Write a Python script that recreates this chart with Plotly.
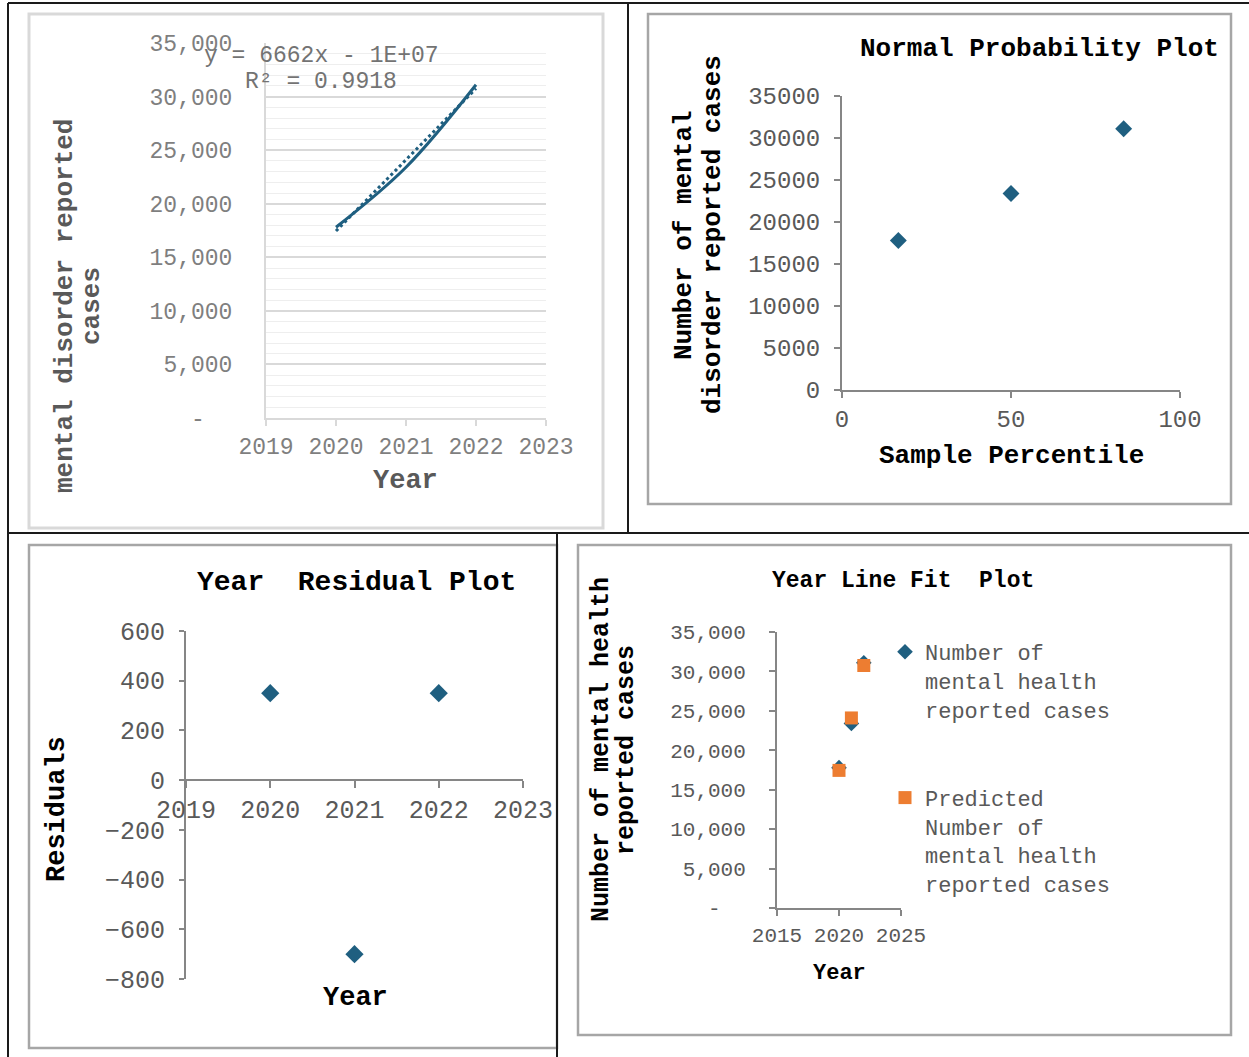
import plotly.graph_objects as go

W, H = 1249, 1057

# ---------------- data ----------------
years = [2020, 2021, 2022]
cases = [17800, 23400, 31100]            # number of mental disorder reported cases
predicted = [17450, 24100, 30750]        # linear-fit predictions
residuals = [350, -700, 350]
percentiles = [16.67, 50.0, 83.33]
sorted_cases = [17800, 23400, 31100]

case_ticks = [0, 5000, 10000, 15000, 20000, 25000, 30000, 35000]
case_ticktext_comma = [f"{v:,}" if v else "-\u00a0\u00a0" for v in case_ticks]
resid_ticks = [-800, -600, -400, -200, 0, 200, 400, 600]
year_ticks_a = [2019, 2020, 2021, 2022, 2023]
year_ticks_b = [2015, 2020, 2025]
pct_ticks = [0, 50, 100]

BLUE = "#1f5f80"
ORANGE = "#ED7D31"
MONO = "Liberation Mono"
AX = "#868686"


def fx(p):
    return p / W


def fy(p):
    return 1 - p / H


fig = go.Figure()

# top-left: line + dotted linear trendline
fig.add_trace(go.Scatter(x=years, y=cases, mode="lines",
                         line=dict(color=BLUE, width=3, shape="spline"),
                         xaxis="x", yaxis="y", showlegend=False))
fig.add_trace(go.Scatter(x=years, y=predicted, mode="lines",
                         line=dict(color=BLUE, width=3, dash="dot"),
                         xaxis="x", yaxis="y", showlegend=False))
# top-right: normal probability plot
fig.add_trace(go.Scatter(x=percentiles, y=sorted_cases, mode="markers",
                         marker=dict(symbol="diamond", size=13, color=BLUE),
                         xaxis="x2", yaxis="y2", showlegend=False))
# bottom-left: residual plot
fig.add_trace(go.Scatter(x=years, y=residuals, mode="markers",
                         marker=dict(symbol="diamond", size=14, color=BLUE),
                         xaxis="x3", yaxis="y3", showlegend=False))
# bottom-right: line fit plot
fig.add_trace(go.Scatter(x=years, y=cases, mode="markers",
                         marker=dict(symbol="diamond", size=12, color=BLUE),
                         name="Number of<br>mental health<br>reported cases",
                         legendgroup="a", xaxis="x4", yaxis="y4"))
fig.add_trace(go.Scatter(x=years, y=predicted, mode="markers",
                         marker=dict(symbol="square", size=13, color=ORANGE),
                         name="Predicted<br>Number of<br>mental health<br>reported cases",
                         legendgroup="b", xaxis="x4", yaxis="y4"))


def axis(domain_px, horizontal, **kw):
    a, b = domain_px
    d = [fx(a), fx(b)] if horizontal else [fy(b), fy(a)]
    base = dict(domain=d, showgrid=False, zeroline=False, showline=True,
                automargin=False,
                linecolor=AX, linewidth=2, ticks="outside", tickcolor=AX,
                tickwidth=2, ticklen=6,
                tickfont=dict(family=MONO, size=24, color="#595959"))
    base.update(kw)
    return base


layout = dict(
    width=W, height=H, autosize=False,
    margin=dict(l=0, r=0, t=0, b=0, pad=0, autoexpand=False),
    paper_bgcolor="white", plot_bgcolor="rgba(0,0,0,0)",
    font=dict(family=MONO),
    # top-left
    xaxis=axis((266, 546), True, anchor="y", range=[2019, 2023],
               tickmode="array", tickvals=year_ticks_a,
               linecolor="#d9d9d9", tickcolor="#d9d9d9",
               tickfont=dict(family=MONO, size=23, color="#7f7f7f")),
    yaxis=axis((43, 418), False, anchor="x", range=[0, 35000],
               tickmode="array", tickvals=case_ticks, ticktext=case_ticktext_comma,
               ticks="", linecolor="#d9d9d9", showgrid=True,
               gridcolor="#d9d9d9", gridwidth=2, ticklabelstandoff=27,
               minor=dict(dtick=1000, tick0=0, showgrid=True,
                          gridcolor="#eeeeee", gridwidth=1),
               tickfont=dict(family=MONO, size=23, color="#7f7f7f")),
    # top-right
    xaxis2=axis((842, 1180), True, anchor="y2", range=[0, 100],
                tickmode="array", tickvals=pct_ticks),
    yaxis2=axis((96, 390), False, anchor="x2", range=[0, 35000],
                tickmode="array", tickvals=case_ticks, tickformat="d",
                ticklabelstandoff=9),
    # bottom-left
    xaxis3=axis((186, 523), True, anchor="free", position=fy(780),
                range=[2019, 2023], tickmode="array", tickvals=year_ticks_a,
                ticklen=7,
                tickfont=dict(family=MONO, size=25, color="#595959")),
    yaxis3=axis((631, 979), False, anchor="x3", range=[-800, 600],
                tickmode="array", tickvals=resid_ticks, ticklen=5,
                ticklabelstandoff=9,
                tickfont=dict(family=MONO, size=25, color="#595959")),
    # bottom-right
    xaxis4=axis((777, 901), True, anchor="y4", range=[2015, 2025],
                tickmode="array", tickvals=year_ticks_b, ticklabelstandoff=1,
                tickfont=dict(family=MONO, size=21, color="#595959")),
    yaxis4=axis((632, 908), False, anchor="x4", range=[0, 35000],
                tickmode="array", tickvals=case_ticks, ticktext=case_ticktext_comma,
                ticklabelstandoff=19,
                tickfont=dict(family=MONO, size=21, color="#595959")),
    legend=dict(x=fx(885), y=fy(631), xanchor="left", yanchor="top",
                font=dict(family=MONO, size=22, color="#595959"),
                bgcolor="rgba(0,0,0,0)", tracegroupgap=57, valign="top",
                traceorder="grouped"),
)
fig.update_layout(**layout)


def ann(text, x, y, size, color="#000000", angle=0):
    fig.add_annotation(text=text, x=fx(x), y=fy(y), xref="paper", yref="paper",
                       xanchor="center", yanchor="middle", showarrow=False,
                       textangle=angle, font=dict(family=MONO, size=size, color=color))


# top-left texts
ann("y = 6662x - 1E+07", 321, 56, 23, "#737373")
ann("R² = 0.9918", 321, 82, 23, "#737373")
ann("<b>mental disorder reported</b>", 65, 306, 26, "#595959", -90)
ann("<b>cases</b>", 92, 306, 26, "#595959", -90)
ann("<b>Year</b>", 405, 481, 27, "#595959")
# top-right texts
ann("<b>Normal Probability Plot</b>", 1039, 49, 26)
ann("<b>Number of mental</b>", 684, 235, 26, angle=-90)
ann("<b>disorder reported cases</b>", 713, 235, 26, angle=-90)
ann("<b>Sample Percentile</b>", 1011, 456, 26)
# bottom-left texts
ann("<b>Year\u00a0 Residual Plot</b>", 356, 582, 28)
ann("<b>Residuals</b>", 57, 809, 27, angle=-90)
ann("<b>Year</b>", 355, 998, 27)
# bottom-right texts
ann("<b>Year Line Fit\u00a0 Plot</b>", 903, 581, 23)
ann("<b>Number of mental health</b>", 601, 750, 25, angle=-90)
ann("<b>reported cases</b>", 626, 750, 25, angle=-90)
ann("<b>Year</b>", 839, 973, 22)


def rect(x0, y0, x1, y1, color, width):
    fig.add_shape(type="rect", xref="paper", yref="paper",
                  x0=fx(x0), x1=fx(x1), y0=fy(y1), y1=fy(y0),
                  line=dict(color=color, width=width), layer="below")


def seg(x0, y0, x1, y1, color="#1a1a1a", width=2):
    fig.add_shape(type="line", xref="paper", yref="paper",
                  x0=fx(x0), x1=fx(x1), y0=fy(y0), y1=fy(y1),
                  line=dict(color=color, width=width))


# chart-area borders
rect(29, 14, 603, 528, "#d9d9d9", 3)
rect(648, 14, 1231, 504, "#a6a6a6", 2.5)
rect(29, 545, 557, 1048, "#a6a6a6", 2.5)
rect(578, 545, 1231, 1035, "#a6a6a6", 2.5)

# outer black frame lines
seg(8, 3, 1249, 3)
seg(8, 3, 8, 1057)
seg(628, 3, 628, 533)
seg(8, 533, 1249, 533)
seg(557, 533, 557, 1057)

fig.write_html("out.html", config={"displayModeBar": False},
               post_script="document.body.style.margin='0px';")
